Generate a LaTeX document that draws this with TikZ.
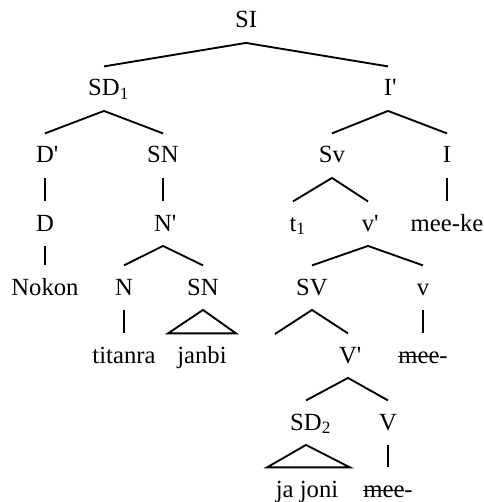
\documentclass[tikz,border=0pt]{standalone}
\usepackage{fontspec}
\setmainfont{Liberation Serif}
\usetikzlibrary{calc}

\newcommand{\sbs}[1]{\rlap{\textsubscript{#1}}}
\newcommand{\prm}{\rlap{\textquotesingle}}
\newcommand{\strk}[1]{\setbox0\hbox{#1}\rlap{\rule[0.23em]{\wd0}{0.05em}}\box0}

\tikzset{
  cat/.style={inner sep=0pt, anchor=base, text height=22pt, text depth=11pt},
  branch/.style={line width=1.4pt}
}

\begin{document}
\begin{tikzpicture}[x=0.75pt,y=0.75pt,yscale=-1,xscale=1,font=\fontsize{18.5}{22}\selectfont]
\useasboundingbox (0,0) rectangle (484,502);

% Text Node
\draw (246,28) node [cat] (SI) {SI};
% Text Node
\draw (104,96) node [cat] (SD1) {SD\sbs{1}};
% Text Node
\draw (388,96) node [cat] (Ibar) {I\prm};
% Text Node
\draw (45,163) node [cat] (Dbar) {D\prm};
% Text Node
\draw (163,163) node [cat] (SN1) {SN};
% Text Node
\draw (332,163) node [cat] (Sv) {Sv};
% Text Node
\draw (447,163) node [cat] (I) {I};
% Text Node
\draw (45,231) node [cat] (D) {D};
% Text Node
\draw (163,231) node [cat] (Nbar) {N\prm};
% Text Node
\draw (293,231) node [cat] (t1) {t\sbs{1}};
% Text Node
\draw (368,231) node [cat] (vbar) {v\prm};
% Text Node
\draw (447,231) node [cat] (meeke) {mee-ke};
% Text Node
\draw (45,295) node [cat] (Nokon) {Nokon};
% Text Node
\draw (124,295) node [cat] (N) {N};
% Text Node
\draw (203,295) node [cat] (SN2) {SN};
% Text Node
\draw (312,295) node [cat] (SV) {SV};
% Text Node
\draw (423,295) node [cat] (v) {v};
% Text Node
\draw (124,363) node [cat] (titanra) {titanra};
% Text Node
\draw (202,363) node [cat] (janbi) {janbi};
% Text Node
\draw (348,363) node [cat] (Vbar) {V\prm};
% Text Node
\draw (423,363) node [cat] (mee1) {\strk{mee}-};
% Text Node
\draw (306,430) node [cat] (SD2) {SD\sbs{2}};
% Text Node
\draw (388,430) node [cat] (V) {V};
% Text Node
\draw (307,497) node [cat] (jajoni) {ja joni};
% Text Node
\draw (388,497) node [cat] (mee2) {\strk{mee}-};

% empty branch under SV
\coordinate (SVleer) at (275,334);

%Straight Lines
\draw [branch] (SD1.north) -- (SI.south) -- (Ibar.north);
\draw [branch] (Dbar.north) -- (SD1.south) -- (SN1.north);
\draw [branch] (Sv.north) -- (Ibar.south) -- (I.north);
\draw [branch] (Dbar.south) -- (D.north);
\draw [branch] (SN1.south) -- (Nbar.north);
\draw [branch] (t1.north) -- (Sv.south) -- (vbar.north);
\draw [branch] (I.south) -- (meeke.north);
\draw [branch] (D.south) -- (Nokon.north);
\draw [branch] (N.north) -- (Nbar.south) -- (SN2.north);
\draw [branch] (SV.north) -- (vbar.south) -- (v.north);
\draw [branch] (N.south) -- (titanra.north);
\draw [branch] (SVleer) -- (SV.south) -- (Vbar.north);
\draw [branch] (v.south) -- (mee1.north);
\draw [branch] (SD2.north) -- (Vbar.south) -- (V.north);
\draw [branch] (V.south) -- (mee2.north);

%Triangles
\draw [branch] (SN2.south) -- ($(janbi.north)+(-34,0)$) -- ($(janbi.north)+(34,0)$) -- cycle;
\draw [branch] (SD2.south) -- ($(jajoni.north)+(-40,0)$) -- ($(jajoni.north)+(43,0)$) -- cycle;

\end{tikzpicture}
\end{document}
